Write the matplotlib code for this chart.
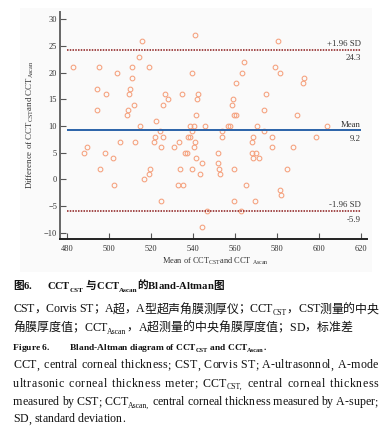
import matplotlib
matplotlib.use('Agg')
import matplotlib.pyplot as plt
from matplotlib.font_manager import FontProperties
from matplotlib.patches import Rectangle

# ---------------- data ----------------
means = [541.2,
         515.7, 580.8,
         514.4,
         564.6,
         483.2, 495.4, 511.2, 519.3, 579.2,
         503.8, 539.8, 563.6, 581.7,
         511.2, 593.1,
         560.8, 592.7,
         494.4, 510.3,
         498.9, 509.8, 527.0, 534.9, 542.7, 574.8,
         528.4, 542.2, 559.3,
         511.9, 526.0, 558.9,
         494.4, 509.3, 574.1,
         508.9, 541.7, 559.8, 560.8, 589.8,
         522.4,
         514.9, 538.7, 540.8, 545.7, 556.7, 557.9, 570.8, 603.8,
         524.4, 539.5, 554.1, 574.1,
         521.9, 526.0, 537.9, 538.7, 553.8, 568.9, 577.8, 598.7,
         505.4, 512.4, 521.4, 533.3, 541.3, 568.4,
         489.8, 524.9, 531.0, 540.8, 577.9, 587.8,
         488.4, 498.4, 536.2, 537.3, 552.2, 568.4, 570.3,
         501.9, 541.7, 568.9, 571.7,
         544.4, 552.2,
         495.9, 519.8, 533.8, 539.8, 552.7, 559.8, 584.9,
         519.3, 543.3, 553.1,
         516.8,
         502.5, 533.2, 535.2, 565.4,
         581.7,
         582.2,
         524.8, 559.8, 569.8,
         547.0, 562.9,
         544.4]
diffs = [27,
         26, 26,
         23,
         22,
         21, 21, 21, 21, 21,
         20, 20, 20, 20,
         19, 19,
         18, 18,
         17, 17,
         16, 16, 16, 16, 16, 16,
         15, 15, 15,
         14, 14, 14,
         13, 13, 13,
         12, 12, 12, 12, 12,
         11,
         10, 10, 10, 10, 10, 10, 10, 10,
         9, 9, 9, 9,
         8, 8, 8, 8, 8, 8, 8, 8,
         7, 7, 7, 7, 7, 7,
         6, 6, 6, 6, 6, 6,
         5, 5, 5, 5, 5, 5, 5,
         4, 4, 4, 4,
         3, 3,
         2, 2, 2, 2, 2, 2, 2,
         1, 1, 1,
         0,
         -1, -1, -1, -1,
         -2,
         -3,
         -4, -4, -4,
         -6, -6,
         -9]
mean_diff = 9.2
upper_loa = 24.3
lower_loa = -5.9
x_ticks = [480, 500, 520, 540, 560, 580, 600, 620]
y_ticks = [-10, -5, 0, 5, 10, 15, 20, 25, 30]
upper_label = ['+1.96 SD', '24.3']
mean_label = ['Mean', '9.2']
lower_label = ['-1.96 SD', '-5.9']
x_label = r'Mean of CCT$_{\mathrm{CST}}$and CCT $_{\mathrm{Ascan}}$'
y_label = r'Difference of CCT$_{\mathrm{CST}}$and CCT$_{\mathrm{Ascan}}$'

W, H = 392, 430
plt.rcParams['font.family'] = ['Liberation Serif', 'Noto Sans CJK SC']
plt.rcParams['mathtext.fontset'] = 'custom'
plt.rcParams['mathtext.rm'] = 'Liberation Serif'
plt.rcParams['mathtext.it'] = 'Liberation Serif:italic'
plt.rcParams['mathtext.bf'] = 'Liberation Serif:bold'

fig = plt.figure(figsize=(W / 100, H / 100), dpi=100)
fig.patch.set_facecolor('white')
fig.add_artist(Rectangle((20 / W, 1 - 272 / H), 352 / W, 264 / H,
                         transform=fig.transFigure, facecolor='#fafafa',
                         edgecolor='none', zorder=-5))

ax = fig.add_axes([60 / W, 1 - 239 / H, (366.7 - 60) / W, (239 - 12.3) / H])
ax.set_facecolor('none')
ax.plot(means, diffs, linestyle='none', marker='o', markersize=3.4,
        markerfacecolor='none', markeredgecolor='#f5a07c', markeredgewidth=0.75)
ax.hlines(mean_diff, x_ticks[0], x_ticks[-1], color='#2a62a8', lw=1.4)
for v in (upper_loa, lower_loa):
    ax.hlines(v, x_ticks[0], x_ticks[-1], color='#8b1a1a', lw=1.1,
              linestyle=(0, (1, 0.8)))

ax.set_xlim(476.8, 622.9)
ax.set_ylim(-11.2, 31.3)
ax.set_xticks(x_ticks)
ax.set_yticks(y_ticks)
ax.tick_params(axis='both', direction='in', length=4.5, width=0.8, color='#555',
               labelsize=6, labelcolor='#333')
ax.tick_params(axis='y', pad=2)
ax.tick_params(axis='x', pad=4)
for s in ('top', 'right'):
    ax.spines[s].set_visible(False)
ax.spines['left'].set_color('#666')
ax.spines['left'].set_linewidth(1.4)
ax.spines['bottom'].set_color('#222')
ax.spines['bottom'].set_linewidth(1.4)

for val, (above, below) in ((upper_loa, upper_label), (mean_diff, mean_label),
                            (lower_loa, lower_label)):
    ax.annotate(above, xy=(x_ticks[-1], val), xytext=(0, 1.2),
                textcoords='offset points', ha='right', va='bottom',
                fontsize=6.3, color='#333')
    ax.annotate(below, xy=(x_ticks[-1], val), xytext=(0, -3.5),
                textcoords='offset points', ha='right', va='top',
                fontsize=6.3, color='#333')

fig.text(215 / W, 1 - 264 / H, x_label, ha='center', va='baseline',
         fontsize=6.0, color='#333')
fig.text(30 / W, 1 - 125 / H, y_label, rotation=90, ha='center', va='center',
         fontsize=6.4, color='#333')

# ---------------- caption (rich text layout) ----------------
FAM = ['Liberation Serif', 'Noto Sans CJK SC']
BASE = {'r': (8.6, 'normal', 0.0), 'rs': (5.6, 'normal', -2.6),
        'b': (8.4, 'bold', 0.0), 'bs': (5.7, 'bold', -2.8)}
renderer = fig.canvas.get_renderer()
_cache = {}


def fprop(st, sc):
    size, weight, _ = BASE[st]
    return FontProperties(family=FAM, size=size * sc, weight=weight)


def _w(s, st, sc):
    key = (s, st, sc)
    if key not in _cache:
        t = fig.text(0, 0, s, fontproperties=fprop(st, sc))
        _cache[key] = t.get_window_extent(renderer=renderer).width
        t.remove()
    return _cache[key]


def adv(s, st, sc):
    return _w('|' + s + '|', st, sc) - _w('||', st, sc)


def space_w(st, sc):
    return _w('a a', st, sc) - _w('aa', st, sc)


def build_atoms(runs, space_weight):
    atoms = []  # (text, style, space_before, weight, tab)
    space_flag = False
    for text, st in runs:
        if text == 'TAB':
            atoms.append((None, None, False, 0.0, st))
            continue
        if st.endswith('s'):
            atoms.append((text, st, space_flag, 0.0, None))
            space_flag = False
            continue
        for ch in text:
            if ch == ' ':
                space_flag = True
                continue
            atoms.append((ch, st, space_flag, space_weight if space_flag else 1.0, None))
            space_flag = False
    return atoms


def run_layout(atoms, x0, sc, extra=0.0, yb=None, color='#111'):
    pen = x0
    last_tab = x0
    total_w = 0.0
    for k, (text, st, sp, wt, tab) in enumerate(atoms):
        if tab is not None:
            pen = tab
            last_tab = tab
            continue
        if sp:
            pen += space_w(st, sc)
        if k > 0:
            total_w += wt
            pen += extra * wt
        if yb is not None:
            dy = BASE[st][2] * sc
            fig.text(pen / W, 1 - (yb - dy) / H, text, fontproperties=fprop(st, sc),
                     ha='left', va='baseline', color=color)
        pen += adv(text, st, sc)
    return pen, last_tab, total_w


def layout_line(runs, x0, yb, target=None, space_weight=1.0, fit_end=None, scale=1.0):
    atoms = build_atoms(runs, space_weight)
    sc = scale
    if fit_end is not None:
        end, start, _ = run_layout(atoms, x0, 1.0)
        sc = (fit_end - start) / (end - start)
    extra = 0.0
    if target is not None:
        end, _, tw = run_layout(atoms, x0, sc)
        if tw > 0:
            extra = (target - end) / tw
    run_layout(atoms, x0, sc, extra, yb)


L, R = 13, 378
layout_line([('图6.', 'b'), ('TAB', 47), ('CCT', 'b'), ('CST', 'bs'),
             (' 与CCT', 'b'), ('Ascan', 'bs'), ('的Bland-Altman图', 'b')], L, 289,
            fit_end=224)
layout_line([('CST，Corvis ST；A超，A型超声角膜测厚仪；CCT', 'r'), ('CST', 'rs'),
             ('，CST测量的中央', 'r')], L, 312.5, target=R)
layout_line([('角膜厚度值；CCT', 'r'), ('Ascan', 'rs'),
             ('，A超测量的中央角膜厚度值；SD，标准差', 'r')], L, 331)
layout_line([('Figure 6.', 'b'), ('TAB', 70), ('Bland-Altman diagram of CCT', 'b'),
             ('CST', 'bs'), (' and CCT', 'b'), ('Ascan', 'bs'), ('.', 'b')], L, 350,
            fit_end=268)
layout_line([('CCT, central corneal thickness; CST, Corvis ST; A-ultrasonnol, A-mode', 'r')],
            L, 368.5, target=R, space_weight=4.0)
layout_line([('ultrasonic corneal thickness meter; CCT', 'r'), ('CST,', 'rs'),
             (' central corneal thickness', 'r')], L, 386.7, target=R, space_weight=4.0)
layout_line([('measured by CST; CCT', 'r'), ('Ascan,', 'rs'),
             (' central corneal thickness measured by A-super;', 'r')],
            L, 404.8, target=R, space_weight=4.0)
layout_line([('SD, standard deviation.', 'r')], L, 422.5)

fig.savefig('out.png', dpi=100, facecolor='white')
